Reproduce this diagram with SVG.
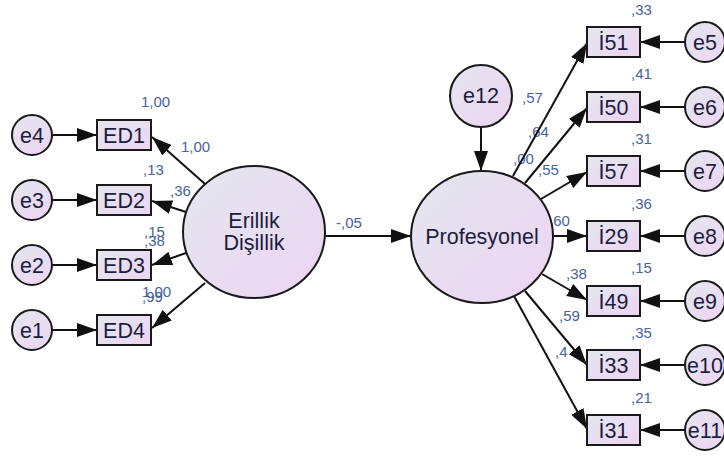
<svg xmlns="http://www.w3.org/2000/svg" width="724" height="456" viewBox="0 0 724 456">
  <defs>
    <linearGradient id="fillGrad" x1="0" y1="0" x2="1" y2="1">
      <stop offset="0" stop-color="#E3E7EF"/>
      <stop offset="1" stop-color="#EDD4F3"/>
    </linearGradient>
    <marker id="head" viewBox="0 0 20 14" markerWidth="20" markerHeight="14" markerUnits="userSpaceOnUse" refX="20" refY="7" orient="auto">
      <path d="M0,0 L20,7 L0,14 Z" fill="#111"/>
    </marker>
    <style>
      .node { fill: url(#fillGrad); stroke: #1a1a1a; stroke-width: 2; }
      .name { font-family: "Liberation Sans", Arial, sans-serif; font-size: 21.5px; fill: #1d1d3d; text-anchor: middle; }
      .coef { font-family: "Liberation Sans", Arial, sans-serif; font-size: 15px; fill: #4863a0; }
      .link { stroke: #111; stroke-width: 2; fill: none; marker-end: url(#head); }
    </style>
  </defs>
  <rect width="724" height="456" fill="#ffffff"/>

  <!-- coefficient labels -->
  <g id="labels" class="coef">
    <text x="141" y="107">1,00</text>
    <text x="181" y="152">1,00</text>
    <text x="143" y="175">,13</text>
    <text x="170" y="196">,36</text>
    <text x="144" y="237">,15</text>
    <text x="144" y="246">,38</text>
    <text x="142" y="297">1,00</text>
    <text x="142" y="302">,99</text>
    <text x="336" y="228">-,05</text>
    <text x="522" y="103">,57</text>
    <text x="528" y="137">,64</text>
    <text x="513" y="164">,00</text>
    <text x="538" y="175">,55</text>
    <text x="549" y="226">,60</text>
    <text x="566" y="279">,38</text>
    <text x="559" y="321">,59</text>
    <text x="555" y="357">,4</text>
    <text x="631" y="15">,33</text>
    <text x="631" y="79">,41</text>
    <text x="631" y="144">,31</text>
    <text x="631" y="209">,36</text>
    <text x="631" y="273">,15</text>
    <text x="631" y="338">,35</text>
    <text x="631" y="403">,21</text>
  </g>

  <!-- connectors -->
  <g id="connectors" class="link">
    <line x1="52" y1="135" x2="97" y2="135"/>
    <line x1="52" y1="200" x2="97" y2="200"/>
    <line x1="52" y1="265" x2="97" y2="265"/>
    <line x1="52" y1="330" x2="97" y2="330"/>
    <line x1="205" y1="184" x2="152" y2="137"/>
    <line x1="186" y1="212" x2="152" y2="201"/>
    <line x1="186" y1="253" x2="152" y2="265"/>
    <line x1="205" y1="283" x2="152" y2="328"/>
    <line x1="325" y1="236" x2="411" y2="236"/>
    <line x1="481" y1="127" x2="481" y2="171"/>
    <line x1="513" y1="176" x2="587" y2="43"/>
    <line x1="525" y1="183" x2="587" y2="108"/>
    <line x1="541" y1="199" x2="587" y2="172"/>
    <line x1="553" y1="236" x2="587" y2="236"/>
    <line x1="542" y1="274" x2="587" y2="300"/>
    <line x1="525" y1="291" x2="587" y2="365"/>
    <line x1="514" y1="296" x2="587" y2="429"/>
    <line x1="685" y1="42" x2="640" y2="42"/>
    <line x1="685" y1="107" x2="640" y2="107"/>
    <line x1="685" y1="171" x2="640" y2="171"/>
    <line x1="685" y1="236" x2="640" y2="236"/>
    <line x1="685" y1="301" x2="640" y2="301"/>
    <line x1="685" y1="365" x2="640" y2="365"/>
    <line x1="685" y1="430" x2="640" y2="430"/>
  </g>

  <!-- latent variables -->
  <g id="erillik">
    <ellipse class="node" cx="254" cy="232" rx="71" ry="66"/>
    <text class="name" x="254" y="228">Erillik</text>
    <text class="name" x="254" y="250">Dişillik</text>
  </g>
  <g id="profesyonel">
    <ellipse class="node" cx="482" cy="237" rx="71" ry="66"/>
    <text class="name" x="482" y="244">Profesyonel</text>
  </g>
  <g id="e12">
    <circle class="node" cx="481" cy="96" r="31"/>
    <text class="name" x="481" y="103">e12</text>
  </g>

  <!-- left indicators -->
  <g id="ED1"><rect class="node" x="97" y="120" width="54" height="30"/><text class="name" x="124" y="143">ED1</text></g>
  <g id="ED2"><rect class="node" x="97" y="185" width="54" height="30"/><text class="name" x="124" y="208">ED2</text></g>
  <g id="ED3"><rect class="node" x="97" y="250" width="54" height="30"/><text class="name" x="124" y="273">ED3</text></g>
  <g id="ED4"><rect class="node" x="97" y="315" width="54" height="30"/><text class="name" x="124" y="338">ED4</text></g>

  <!-- left error terms -->
  <g id="e4"><circle class="node" cx="32" cy="135" r="20"/><text class="name" x="32" y="143">e4</text></g>
  <g id="e3"><circle class="node" cx="32" cy="200" r="20"/><text class="name" x="32" y="208">e3</text></g>
  <g id="e2"><circle class="node" cx="32" cy="265" r="20"/><text class="name" x="32" y="273">e2</text></g>
  <g id="e1"><circle class="node" cx="32" cy="330" r="20"/><text class="name" x="32" y="338">e1</text></g>

  <!-- right indicators -->
  <g id="I51"><rect class="node" x="587" y="27" width="53" height="30"/><text class="name" x="613.5" y="50">İ51</text></g>
  <g id="I50"><rect class="node" x="587" y="92" width="53" height="30"/><text class="name" x="613.5" y="115">İ50</text></g>
  <g id="I57"><rect class="node" x="587" y="156" width="53" height="30"/><text class="name" x="613.5" y="179">İ57</text></g>
  <g id="I29"><rect class="node" x="587" y="221" width="53" height="30"/><text class="name" x="613.5" y="244">İ29</text></g>
  <g id="I49"><rect class="node" x="587" y="286" width="53" height="30"/><text class="name" x="613.5" y="309">İ49</text></g>
  <g id="I33"><rect class="node" x="587" y="350" width="53" height="30"/><text class="name" x="613.5" y="373">İ33</text></g>
  <g id="I31"><rect class="node" x="587" y="415" width="53" height="30"/><text class="name" x="613.5" y="438">İ31</text></g>

  <!-- right error terms -->
  <g id="e5"><circle class="node" cx="705" cy="42" r="20"/><text class="name" x="705" y="50">e5</text></g>
  <g id="e6"><circle class="node" cx="705" cy="107" r="20"/><text class="name" x="705" y="115">e6</text></g>
  <g id="e7"><circle class="node" cx="705" cy="171" r="20"/><text class="name" x="705" y="179">e7</text></g>
  <g id="e8"><circle class="node" cx="705" cy="236" r="20"/><text class="name" x="705" y="244">e8</text></g>
  <g id="e9"><circle class="node" cx="705" cy="301" r="20"/><text class="name" x="705" y="309">e9</text></g>
  <g id="e10"><circle class="node" cx="705" cy="365" r="20"/><text class="name" x="705" y="373">e10</text></g>
  <g id="e11"><circle class="node" cx="705" cy="430" r="20"/><text class="name" x="705" y="438">e11</text></g>
</svg>
